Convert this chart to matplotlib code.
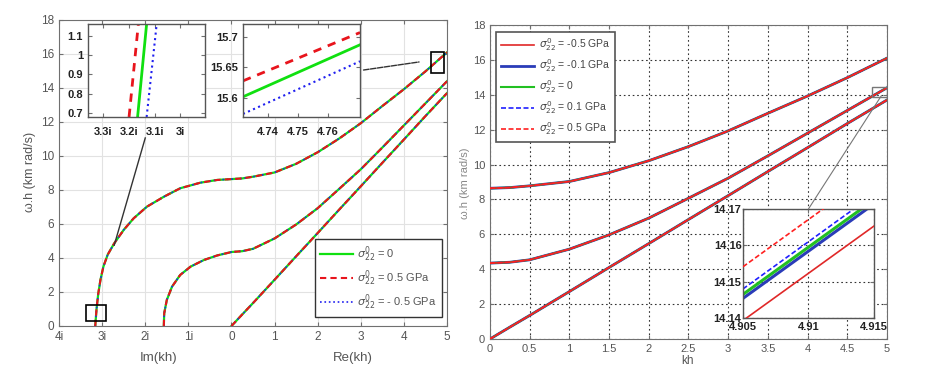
import matplotlib
matplotlib.use("Agg")
import matplotlib.pyplot as plt
from matplotlib.patches import Rectangle, ConnectionPatch
import numpy as np

plt.rcParams['font.family'] = ['Liberation Sans', 'DejaVu Sans']

kh = [0, 0.25, 0.5, 1, 1.5, 2, 2.5, 3, 3.5, 4, 4.5, 5]
w_mode1 = [8.64, 8.68, 8.78, 9.03, 9.54, 10.22, 11.03, 11.93, 12.94, 13.93, 14.98, 16.1]
w_mode2 = [4.35, 4.40, 4.54, 5.15, 5.97, 6.93, 8.07, 9.22, 10.5, 11.8, 13.1, 14.4]
w_mode3 = [0.0, 0.68, 1.35, 2.72, 4.1, 5.47, 6.85, 8.22, 9.6, 10.97, 12.35, 13.7]

# imaginary branches (left panel, Im(kh))
im_mode1 = [3.16, 3.13, 3.09, 3.04, 2.97, 2.87, 2.72, 2.50, 2.27, 1.96, 1.57, 1.19, 0.72, 0.33, 0.0]
w_im_mode1 = [0.0, 1.0, 1.9, 2.7, 3.5, 4.2, 4.86, 5.65, 6.33, 7.02, 7.6, 8.1, 8.43, 8.59, 8.64]
im_mode2 = [1.57, 1.56, 1.50, 1.38, 1.19, 0.95, 0.64, 0.33, 0.0]
w_im_mode2 = [0.0, 0.75, 1.53, 2.31, 3.0, 3.49, 3.88, 4.15, 4.35]

# zoomed insets, left panel
ins1_w = [0.68, 1.16]
ins1_im_0 = [3.166, 3.131]
ins1_im_p05 = [3.199, 3.163]
ins1_im_m05 = [3.131, 3.092]
ins2_kh = [4.7317, 4.7707]
ins2_w_0 = [15.602, 15.687]
ins2_w_p05 = [15.628, 15.707]
ins2_w_m05 = [15.574, 15.660]

# zoomed inset, right panel
ins3_kh = [4.905, 4.915]
ins3_w = {
    "-0.5": [14.1393, 14.1653],
    "-0.1": [14.1454, 14.1714],
    "0": [14.1465, 14.1725],
    "0.1": [14.1480, 14.1740],
    "0.5": [14.1541, 14.1801],
}

left_xticks = [-4, -3, -2, -1, 0, 1, 2, 3, 4, 5]
left_xlabels = ['4i', '3i', '2i', '1i', '0', '1', '2', '3', '4', '5']

GREEN = '#10e010'
RED = '#e8141c'
BLUE = '#2020f0'
TICKC = '#555555'
SPINEC = '#707070'


def matlab_axes(ax, size=8.5):
    ax.tick_params(direction='in', top=True, right=True, labelsize=size,
                   labelcolor=TICKC, color=SPINEC, length=3)
    for s in ax.spines.values():
        s.set_color(SPINEC)


def inset_axes(ax):
    ax.tick_params(direction='in', top=True, right=True, labelsize=8,
                   labelcolor='#222222', color=SPINEC, length=3)
    for lab in ax.get_xticklabels() + ax.get_yticklabels():
        lab.set_fontweight('bold')
    for s in ax.spines.values():
        s.set_color('#555555')
        s.set_linewidth(1.0)


fig = plt.figure(figsize=(9.31, 3.70), dpi=100)

# ---------------- left panel ----------------
ax1 = fig.add_axes([0.0634, 0.119, 0.4168, 0.827])
matlab_axes(ax1)
ax1.grid(True, color='#e2e2e2', lw=0.8)
ax1.set_axisbelow(True)

modes_left = [
    (np.concatenate([-np.array(im_mode1), kh]), np.concatenate([w_im_mode1, w_mode1])),
    (np.concatenate([-np.array(im_mode2), kh]), np.concatenate([w_im_mode2, w_mode2])),
    (np.array(kh), np.array(w_mode3)),
]
for i, (x, w) in enumerate(modes_left):
    ax1.plot(x, w, color=GREEN, lw=1.6, label=r'$\sigma^0_{22}$ = 0' if i == 0 else None)
    ax1.plot(x, w, color=RED, lw=1.5, dashes=(3, 2), zorder=3,
             label=r'$\sigma^0_{22}$ = 0.5 GPa' if i == 0 else None)
    ax1.plot(x, w, color=BLUE, lw=1.2, ls=':',
             label=r'$\sigma^0_{22}$ = - 0.5 GPa' if i == 0 else None)

ax1.set_xlim(-4, 5)
ax1.set_ylim(0, 18)
ax1.set_xticks(left_xticks)
ax1.set_xticklabels(left_xlabels)
ax1.set_yticks(range(0, 19, 2))

leg1 = ax1.legend(loc='lower right', bbox_to_anchor=(0.987, 0.029), fontsize=8,
                  handlelength=3.0, labelspacing=0.4, fancybox=False, borderaxespad=0,
                  edgecolor='#333333', framealpha=1, borderpad=0.45, handletextpad=0.4)
for t in leg1.get_texts():
    t.set_color('#555555')
leg1.get_frame().set_linewidth(1.0)

ax1.text(-1.7, -0.105, 'Im(kh)', transform=ax1.get_xaxis_transform(),
         ha='center', va='center', fontsize=9.5, color=TICKC)
ax1.text(2.81, -0.105, 'Re(kh)', transform=ax1.get_xaxis_transform(),
         ha='center', va='center', fontsize=9.5, color=TICKC)
fig.text(30 / 931, 1 - 172 / 370, 'ω.h (km rad/s)', rotation=90, ha='center',
         va='center', fontsize=9, color=TICKC)

# boxes marking the zoomed regions
ax1.add_patch(Rectangle((-3.37, 0.3), 0.47, 0.93, fill=False, ec='black', lw=1.2, zorder=5))
ax1.add_patch(Rectangle((4.63, 14.9), 0.30, 1.2, fill=False, ec='black', lw=1.2, zorder=5))
ax1.plot([-2.0, -2.72], [11.06, 4.75], color='#333333', lw=1.0, zorder=5)

# inset 1
axi1 = fig.add_axes([0.0945, 0.6838, 0.1257, 0.2514])
axi1.plot(-np.array(ins1_im_p05), ins1_w, color=RED, lw=2.0, dashes=(3, 2.5))
axi1.plot(-np.array(ins1_im_0), ins1_w, color=GREEN, lw=2.0)
axi1.plot(-np.array(ins1_im_m05), ins1_w, color=BLUE, lw=1.5, ls=':')
axi1.set_xlim(-3.358, -2.905)
axi1.set_ylim(0.68, 1.16)
axi1.set_xticks([-3.3, -3.2, -3.1, -3.0])
axi1.set_xticklabels(['3.3i', '3.2i', '3.1i', '3i'])
axi1.set_yticks([0.7, 0.8, 0.9, 1.0, 1.1])
axi1.set_yticklabels(['0.7', '0.8', '0.9', '1', '1.1'])
inset_axes(axi1)
axi1.tick_params(axis='x', pad=7)

# inset 2
axi2 = fig.add_axes([0.261, 0.6838, 0.1257, 0.2514])
axi2.plot(ins2_kh, ins2_w_p05, color=RED, lw=2.0, dashes=(3, 2.5))
axi2.plot(ins2_kh, ins2_w_0, color=GREEN, lw=2.0)
axi2.plot(ins2_kh, ins2_w_m05, color=BLUE, lw=1.5, ls=':')
axi2.set_xlim(4.7317, 4.7707)
axi2.set_ylim(15.569, 15.721)
axi2.set_xticks([4.74, 4.75, 4.76])
axi2.set_yticks([15.6, 15.65, 15.7])
axi2.set_yticklabels(['15.6', '15.65', '15.7'])
inset_axes(axi2)
axi2.tick_params(axis='x', pad=7)

con = ConnectionPatch(xyA=(1.03, 0.505), coordsA=axi2.transAxes,
                      xyB=(4.35, 15.53), coordsB=ax1.transData,
                      color='#333333', lw=1.0, ls=(0, (4, 1)))
fig.add_artist(con)

# ---------------- right panel ----------------
ax2 = fig.add_axes([0.5263, 0.0838, 0.4264, 0.8486])
matlab_axes(ax2, size=8)
ax2.grid(True, color='#333333', ls=(0, (1.5, 2.5)), lw=0.8)
ax2.set_axisbelow(True)

styles = [
    ("-0.5", dict(color='#e02828', lw=1.2), r'$\sigma^0_{22}$ = -0.5 GPa', 3),
    ("-0.1", dict(color='#2a3cb8', lw=2.0), r'$\sigma^0_{22}$ = -0.1 GPa', 2),
    ("0", dict(color='#22c022', lw=1.5), r'$\sigma^0_{22}$ = 0', 2.1),
    ("0.1", dict(color='#2020ff', lw=1.2, dashes=(3, 1.5)), r'$\sigma^0_{22}$ = 0.1 GPa', 2.2),
    ("0.5", dict(color='#ff2020', lw=1.2, dashes=(3, 1.5)), r'$\sigma^0_{22}$ = 0.5 GPa', 4),
]
for key, st, lab, z in styles:
    for j, w in enumerate([w_mode1, w_mode2, w_mode3]):
        ax2.plot(kh, w, label=lab if j == 0 else None, zorder=z, **st)

ax2.set_xlim(0, 5)
ax2.set_ylim(0, 18)
ax2.set_xticks(np.arange(0, 5.01, 0.5))
ax2.set_xticklabels(['0', '0.5', '1', '1.5', '2', '2.5', '3', '3.5', '4', '4.5', '5'])
ax2.set_yticks(range(0, 19, 2))

leg2 = ax2.legend(loc='upper left', bbox_to_anchor=(0.015, 0.978), fontsize=7.5,
                  handlelength=3.2, labelspacing=0.4, fancybox=False, borderaxespad=0,
                  edgecolor='#555555', framealpha=1, borderpad=0.45, handletextpad=0.5)
for t in leg2.get_texts():
    t.set_color('#444444')
leg2.get_frame().set_linewidth(1.2)

fig.text(688 / 931, 1 - 361 / 370, 'kh', ha='center', va='center', fontsize=8.5, color=TICKC)
fig.text(465 / 931, 1 - 183 / 370, 'ω.h (km rad/s)', rotation=90, ha='center',
         va='center', fontsize=8, color='#888888')

ax2.add_patch(Rectangle((4.81, 13.9), 0.19, 0.55, fill=False, ec='#777777', lw=1.0, zorder=6))

# inset 3
axi3 = fig.add_axes([0.798, 0.1405, 0.1407, 0.2946])
for key, st, lab, z in styles:
    st2 = dict(st)
    if key in ("-0.1", "0"):
        st2['lw'] = 2.2
    axi3.plot(ins3_kh, ins3_w[key], zorder=z, **st2)
axi3.set_xlim(4.905, 4.915)
axi3.set_ylim(14.14, 14.17)
axi3.set_xticks([4.905, 4.91, 4.915])
axi3.set_xticklabels(['4.905', '4.91', '4.915'])
axi3.set_yticks([14.14, 14.15, 14.16, 14.17])
axi3.set_yticklabels(['14.14', '14.15', '14.16', '14.17'])
axi3.grid(True, color='#333333', ls=(0, (1.5, 2.5)), lw=0.8)
inset_axes(axi3)
axi3.tick_params(axis='x', pad=3)
axi3.tick_params(axis='y', pad=1)

con2 = ConnectionPatch(xyA=(4.91, 14.17), coordsA=axi3.transData,
                       xyB=(4.93, 13.95), coordsB=ax2.transData,
                       color='#777777', lw=0.8)
fig.add_artist(con2)

fig.savefig('out.png', dpi=100)
